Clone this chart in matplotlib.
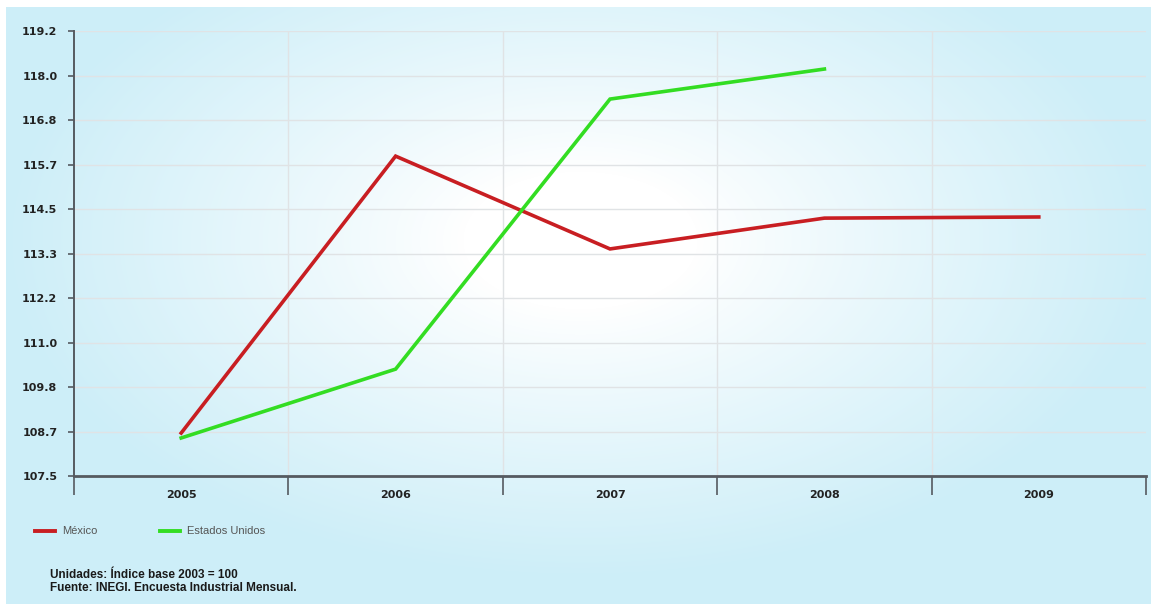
import numpy as np
import matplotlib
matplotlib.use("Agg")
import matplotlib.pyplot as plt
from matplotlib.colors import LinearSegmentedColormap

years = ["2005", "2006", "2007", "2008", "2009"]
mexico = [108.63, 115.91, 113.47, 114.28, 114.31]
eeuu = [108.5, 110.31, 117.41, 118.2]
ytick_labels = ["107.5", "108.7", "109.8", "111.0", "112.2", "113.3",
                "114.5", "115.7", "116.8", "118.0", "119.2"]
legend_labels = ["México", "Estados Unidos"]
footnote = ["Unidades: Índice base 2003 = 100",
            "Fuente: INEGI. Encuesta Industrial Mensual."]

W, H = 1151, 604
fig = plt.figure(figsize=(W / 100, H / 100), dpi=100)

# background gradient
bg = fig.add_axes([0, 0, 1, 1])
bg.set_axis_off()
yy, xx = np.mgrid[0:H, 0:W]
cx, cy = 580, 240
d = np.sqrt(((xx - cx) / 580.0) ** 2 + ((yy - cy) / 340.0) ** 2)
t = np.clip((d - 0.2) / 0.8, 0, 1) ** 0.9
cmap = LinearSegmentedColormap.from_list("bgc", ["#ffffff", "#cdeef8"])
img = cmap(t)
img[:7, :, :3] = 1.0
img[:, :6, :3] = 1.0
bg.imshow(img, aspect="auto", extent=[0, W, H, 0])
bg.set_xlim(0, W)
bg.set_ylim(H, 0)

left, right, top, bottom = 74, 1146, 31, 476
ax = fig.add_axes([left / W, 1 - bottom / H, (right - left) / W, (bottom - top) / H])
ax.patch.set_alpha(0)

ymin, ymax = 107.5, 119.2
yt = np.linspace(ymin, ymax, len(ytick_labels))
x = np.arange(len(years))

for yv in yt[1:]:
    ax.axhline(yv, color="#e0e3e5", lw=1, zorder=1)
for xb in np.arange(0.5, len(years) - 0.5, 1):
    ax.axvline(xb, color="#e0e3e5", lw=1, zorder=1)

ax.plot(x[:len(mexico)], mexico, color="#c81e22", lw=2.6, zorder=3,
        solid_joinstyle="miter")
ax.plot(x[:len(eeuu)], eeuu, color="#33dd22", lw=2.6, zorder=3,
        solid_joinstyle="miter")

ax.set_xlim(-0.5, len(years) - 0.5)
ax.set_ylim(ymin, ymax)

fam = ["Liberation Sans Narrow", "DejaVu Sans Condensed", "DejaVu Sans"]
ax.set_yticks(yt)
ax.set_yticklabels(ytick_labels, fontsize=8, fontweight="bold", family=fam, color="#222222")
ax.set_xticks(np.arange(-0.5, len(years), 1))
ax.set_xticklabels([])
ax.set_xticks(x, minor=True)
ax.set_xticklabels(years, minor=True, fontsize=8, fontweight="bold", family=fam, color="#222222")
ax.tick_params(axis="x", which="major", length=14, width=1.2, color="#555a60", direction="out")
ax.tick_params(axis="x", which="minor", length=0, pad=10)
ax.tick_params(axis="y", length=4, width=1.2, color="#555a60", pad=8)

for s in ["top", "right"]:
    ax.spines[s].set_visible(False)
ax.spines["left"].set_color("#555a60")
ax.spines["left"].set_linewidth(1.4)
ax.spines["bottom"].set_color("#555a60")
ax.spines["bottom"].set_linewidth(2)

# legend
bg.plot([35, 55], [531, 531], color="#c81e22", lw=2.8)
bg.text(62, 531, legend_labels[0], fontsize=8, color="#555555", va="center",
        family=["Liberation Sans", "DejaVu Sans"])
bg.plot([160, 180], [531, 531], color="#33dd22", lw=2.8)
bg.text(187, 531, legend_labels[1], fontsize=8, color="#555555", va="center",
        family=["Liberation Sans", "DejaVu Sans"])

# footnote
bg.text(50, 575, footnote[0], fontsize=8.5, fontweight="bold", color="#1a1a1a",
        va="center", family=["Liberation Sans", "DejaVu Sans"])
bg.text(50, 588, footnote[1], fontsize=8.5, fontweight="bold", color="#1a1a1a",
        va="center", family=["Liberation Sans", "DejaVu Sans"])

fig.savefig("out.png", dpi=100)
